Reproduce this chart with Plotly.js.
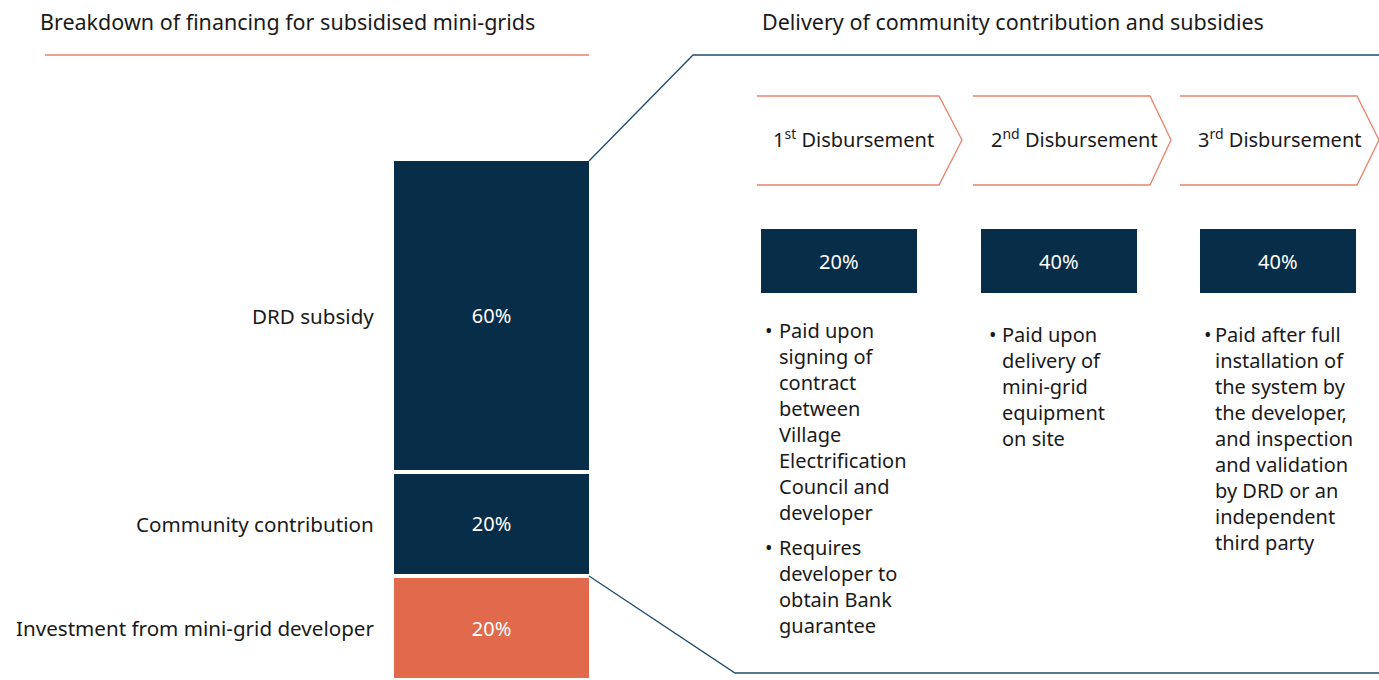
<!DOCTYPE html>
<html>
<head>
<meta charset="utf-8">
<script src="https://cdn.plot.ly/plotly-3.0.1.min.js"></script>
<style>html,body{margin:0;padding:0;background:#fff;}#chart{width:1379px;height:680px;}</style>
</head>
<body>
<div id="chart"></div>
<script>
// ---------- DATA ----------
const leftTitle = 'Breakdown of financing for subsidised mini-grids';
const rightTitle = 'Delivery of community contribution and subsidies';
const segments = ['Investment from mini-grid developer', 'Community contribution', 'DRD subsidy'];
const shares = [20, 20, 60];
const stageLabels = ['1<sup>st</sup> Disbursement', '2<sup>nd</sup> Disbursement', '3<sup>rd</sup> Disbursement'];
const stageShares = [20, 40, 40];
const stageNotes = [
  [['Paid upon', 'signing of', 'contract', 'between', 'Village', 'Electrification', 'Council and', 'developer'],
   ['Requires', 'developer to', 'obtain Bank', 'guarantee']],
  [['Paid upon', 'delivery of', 'mini-grid', 'equipment', 'on site']],
  [['Paid after full', 'installation of', 'the system by', 'the developer,', 'and inspection', 'and validation', 'by DRD or an', 'independent', 'third party']]
];

// ---------- STYLE / LAYOUT ----------
const W = 1379, H = 680;
const NAVY = '#082d49', ORANGE = '#e06a4b', SALMON = '#e8836c', LINK = '#1f4a6e', TXT = '#1a1a1a';
const FONT = '"Noto Sans", Roboto, sans-serif';
const px = x => x / W;
const py = y => 1 - y / H;
const segColors = [ORANGE, NAVY, NAVY];

const traces = segments.map((s, i) => ({
  type: 'bar', x: ['Financing'], y: [shares[i]], name: s,
  marker: {color: segColors[i], line: {color: '#fff', width: 4}},
  width: 1,
  text: [shares[i] + '%'], textposition: 'inside', insidetextanchor: 'middle',
  textangle: 0,
  textfont: {family: FONT, size: 20, color: '#fff'},
  hoverinfo: 'skip', showlegend: false
}));

const annotations = [];
const shapes = [];

annotations.push({xref: 'paper', yref: 'paper', x: px(38), y: py(22), xanchor: 'left', yanchor: 'middle',
  text: leftTitle, showarrow: false, font: {family: FONT, size: 21.5, color: TXT}});
annotations.push({xref: 'paper', yref: 'paper', x: px(760), y: py(22), xanchor: 'left', yanchor: 'middle',
  text: rightTitle, showarrow: false, font: {family: FONT, size: 21.5, color: TXT}});

// segment labels at cumulative midpoints
let cum = 0;
segments.forEach((s, i) => {
  const mid = cum + shares[i] / 2; cum += shares[i];
  annotations.push({xref: 'paper', yref: 'y', x: px(376), y: mid, xanchor: 'right', yanchor: 'middle',
    text: s, showarrow: false, font: {family: FONT, size: 20.6, color: TXT}});
});

// underline & connectors
shapes.push({type: 'line', xref: 'paper', yref: 'paper', x0: px(45), x1: px(589), y0: py(55), y1: py(55),
  line: {color: SALMON, width: 1.3}});
shapes.push({type: 'path', xref: 'paper', yref: 'paper',
  path: `M ${px(589)},${py(161)} L ${px(693)},${py(55)} L ${px(1379)},${py(55)}`,
  line: {color: LINK, width: 1.3}});
shapes.push({type: 'path', xref: 'paper', yref: 'paper',
  path: `M ${px(589)},${py(576)} L ${px(735)},${py(673)} L ${px(1379)},${py(673)}`,
  line: {color: LINK, width: 1.3}});

// chevrons, boxes, notes
const chevL = [757, 973, 1180], chevR = [939, 1150, 1357], chevTip = [962, 1171, 1379];
const labelX = [853, 1074, 1279];
const boxL = [761, 981, 1200], boxR = [917, 1137, 1356];
const bulletX = [763, 987, 1202], noteX = [777, 1000, 1213];
const noteTop = [[315, 532], [319], [319]];

stageLabels.forEach((lab, i) => {
  shapes.push({type: 'path', xref: 'paper', yref: 'paper',
    path: `M ${px(chevL[i])},${py(96)} L ${px(chevR[i])},${py(96)} L ${px(chevTip[i])},${py(140)} L ${px(chevR[i])},${py(185)} L ${px(chevL[i])},${py(185)}`,
    line: {color: SALMON, width: 1.3}});
  annotations.push({xref: 'paper', yref: 'paper', x: px(labelX[i]), y: py(139), xanchor: 'center', yanchor: 'middle',
    text: lab, showarrow: false, font: {family: FONT, size: 20, color: TXT}});
  shapes.push({type: 'rect', xref: 'paper', yref: 'paper', x0: px(boxL[i]), x1: px(boxR[i]), y0: py(229), y1: py(293),
    fillcolor: NAVY, line: {width: 0}});
  annotations.push({xref: 'paper', yref: 'paper', x: px((boxL[i] + boxR[i]) / 2), y: py(261), xanchor: 'center', yanchor: 'middle',
    text: stageShares[i] + '%', showarrow: false, font: {family: FONT, size: 20, color: '#fff'}});
  stageNotes[i].forEach((lines, j) => {
    annotations.push({xref: 'paper', yref: 'paper', x: px(bulletX[i]), y: py(noteTop[i][j]), xanchor: 'left', yanchor: 'top',
      text: '•', showarrow: false, font: {family: FONT, size: 20, color: TXT}});
    annotations.push({xref: 'paper', yref: 'paper', x: px(noteX[i]), y: py(noteTop[i][j]), xanchor: 'left', yanchor: 'top',
      align: 'left', text: lines.join('<br>'), showarrow: false, font: {family: FONT, size: 20, color: TXT}});
  });
});

const layout = {
  width: W, height: H, margin: {l: 0, r: 0, t: 0, b: 0},
  paper_bgcolor: '#fff', plot_bgcolor: 'rgba(0,0,0,0)',
  barmode: 'stack', bargap: 0,
  xaxis: {domain: [px(392), px(591)], range: [-0.5, 0.5], visible: false, fixedrange: true},
  yaxis: {range: [0.058, 130.57], visible: false, fixedrange: true},
  showlegend: false,
  annotations: annotations, shapes: shapes,
  font: {family: FONT, color: TXT}
};

Plotly.newPlot('chart', traces, layout, {displayModeBar: false, staticPlot: true});
</script>
</body>
</html>
